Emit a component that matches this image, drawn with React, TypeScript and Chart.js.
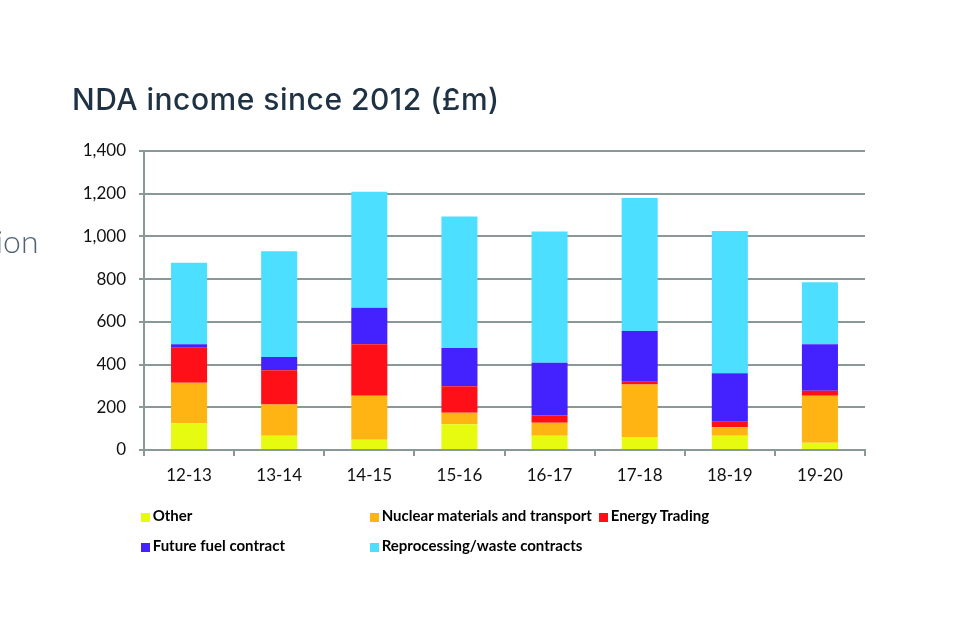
import React, { useEffect, useRef } from "react";
import { Chart, registerables } from "chart.js";

Chart.register(...registerables);

const categories = ["12-13", "13-14", "14-15", "15-16", "16-17", "17-18", "18-19", "19-20"];
const other = [125, 67, 48, 120, 67, 61, 67, 34];
const nuclear = [190, 146, 206, 55, 61, 246, 39, 220];
const energy = [164, 160, 241, 123, 35, 13, 26, 23];
const futureFuel = [16, 62, 171, 180, 246, 237, 227, 218];
const reprocessing = [382, 496, 543, 615, 614, 623, 667, 291];
const yTicks = [0, 200, 400, 600, 800, 1000, 1200, 1400];

const seriesNames = [
  "Other",
  "Nuclear materials and transport",
  "Energy Trading",
  "Future fuel contract",
  "Reprocessing/waste contracts",
];
const seriesColors = ["#e6fb10", "#ffb414", "#ff1018", "#4422ff", "#4cdfff"];

const gridColor = "#8a9898";
const tickFont = { family: "Lato, 'Open Sans', sans-serif", size: 17 };

export default function App() {
  const ref = useRef<HTMLCanvasElement | null>(null);

  useEffect(() => {
    if (!ref.current) return;
    const values = [other, nuclear, energy, futureFuel, reprocessing];
    const chart = new Chart(ref.current, {
      type: "bar",
      data: {
        labels: categories,
        datasets: values.map((v, i) => ({
          label: seriesNames[i],
          data: v,
          backgroundColor: seriesColors[i],
          borderWidth: 0,
          barPercentage: 0.4,
          categoryPercentage: 1.0,
        })),
      },
      options: {
        responsive: false,
        animation: false,
        devicePixelRatio: 1,
        layout: { padding: { left: 0, top: 151, right: 95, bottom: 150 } },
        plugins: {
          legend: { display: false },
          tooltip: { enabled: false },
          title: { display: false },
        },
        scales: {
          x: {
            stacked: true,
            grid: {
              offset: true,
              drawOnChartArea: false,
              drawTicks: true,
              tickLength: 6,
              color: gridColor,
              lineWidth: 2,
            },
            border: { display: true, color: gridColor, width: 2 },
            ticks: { font: tickFont, color: "#111111", padding: 9 },
            afterFit: (s: any) => {
              s.height = 40;
            },
          },
          y: {
            stacked: true,
            min: 0,
            max: 1400,
            afterBuildTicks: (s: any) => {
              s.ticks = yTicks.map((v) => ({ value: v }));
            },
            grid: { color: gridColor, lineWidth: 2, tickLength: 5, drawTicks: true },
            border: { display: true, color: gridColor, width: 2 },
            ticks: {
              font: tickFont,
              color: "#111111",
              padding: 13,
              callback: (v: any) => Number(v).toLocaleString("en-GB"),
            },
            afterFit: (s: any) => {
              s.width = 144;
            },
          },
        },
      },
    });
    return () => chart.destroy();
  }, []);

  const legendRows = [
    { i: 0, box: 140.5, text: 152.7, top: 507.7, boxTop: 513 },
    { i: 1, box: 370, text: 381.7, top: 507.7, boxTop: 513 },
    { i: 2, box: 599, text: 610.7, top: 507.7, boxTop: 513 },
    { i: 3, box: 140.5, text: 152.7, top: 537.7, boxTop: 542.5 },
    { i: 4, box: 370, text: 381.7, top: 537.7, boxTop: 542.5 },
  ];

  return (
    <div
      style={{
        position: "fixed",
        left: 0,
        top: 0,
        width: 960,
        height: 640,
        background: "#ffffff",
        overflow: "hidden",
      }}
    >
      <canvas
        ref={ref}
        width={960}
        height={640}
        style={{ position: "absolute", left: 0, top: 0, width: 960, height: 640 }}
      />
      <div
        style={{
          position: "absolute",
          left: 72,
          top: 84,
          fontFamily: "Inter, 'Liberation Sans', Arial, sans-serif",
          fontWeight: 500,
          fontSize: 30,
          lineHeight: "30px",
          letterSpacing: 0.5,
          color: "#1f3244",
          whiteSpace: "nowrap",
        }}
      >
        NDA income since 2012 (£m)
      </div>
      <div
        style={{
          position: "absolute",
          left: -4,
          top: 225,
          fontFamily: "Lato, sans-serif",
          fontWeight: 300,
          fontSize: 32,
          lineHeight: "32px",
          color: "#4f6274",
          whiteSpace: "nowrap",
        }}
      >
        ion
      </div>
      {legendRows.map((r) => (
        <React.Fragment key={r.i}>
          <div
            style={{
              position: "absolute",
              left: r.box,
              top: r.boxTop,
              width: 9,
              height: 9,
              background: seriesColors[r.i],
            }}
          />
          <div
            style={{
              position: "absolute",
              left: r.text,
              top: r.top,
              fontFamily: "Lato, sans-serif",
              fontWeight: 700,
              fontSize: 15,
              lineHeight: "15px",
              color: "#000000",
              whiteSpace: "nowrap",
            }}
          >
            {seriesNames[r.i]}
          </div>
        </React.Fragment>
      ))}
    </div>
  );
}
